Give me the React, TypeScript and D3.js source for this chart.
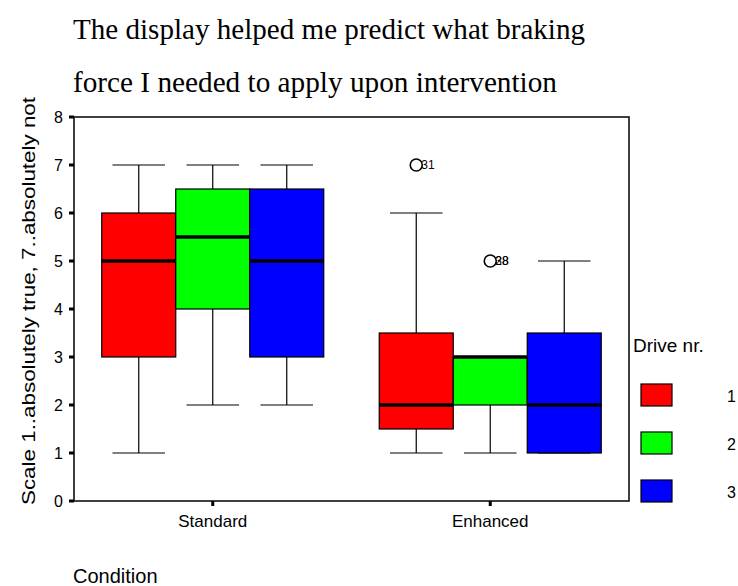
import React from "react"
import * as d3 from "d3"

const conditions = ["Standard", "Enhanced"]
const drives = ["1", "2", "3"]
const driveColors = ["#ff0000", "#00ff00", "#0000ff"]

// [condition][drive] -> five-number summary
const whiskerLow = [[1, 2, 2], [1, 1, 1]]
const q1 = [[3, 4, 3], [1.5, 2, 1]]
const medians = [[5, 5.5, 5], [2, 3, 2]]
const q3 = [[6, 6.5, 6.5], [3.5, 3, 3.5]]
const whiskerHigh = [[7, 7, 7], [6, 3, 5]]

const outliers = [
  { cond: 1, drive: 0, value: 7, labels: ["31"] },
  { cond: 1, drive: 1, value: 5, labels: ["28", "38"] },
]

const yTicks = [0, 1, 2, 3, 4, 5, 6, 7, 8]

export default function App() {
  const width = 738
  const height = 586
  const left = 74
  const right = 629
  const top = 117
  const bottom = 501

  const x = d3.scaleBand().domain(conditions).range([left, right]).paddingInner(0).paddingOuter(0)
  const y = d3.scaleLinear().domain([0, 8]).range([bottom, top])
  const inner = d3
    .scaleBand()
    .domain(drives)
    .range([0, x.bandwidth() * 0.8])
  const offset = x.bandwidth() * 0.1
  const bw = inner.bandwidth()
  const capW = bw * 0.71

  const sans = "'Liberation Sans', Arial, sans-serif"
  const serif = "'Liberation Serif', 'Times New Roman', serif"

  return (
    <svg width={width} height={height} style={{ position: "absolute", left: 0, top: 0, background: "#fff" }}>
      <rect x={0} y={0} width={width} height={height} fill="#fff" />
      <text x={73} y={39} fontFamily={serif} fontSize={29} textLength={512} lengthAdjust="spacingAndGlyphs">
        The display helped me predict what braking
      </text>
      <text x={73} y={92} fontFamily={serif} fontSize={29} textLength={484} lengthAdjust="spacingAndGlyphs">
        force I needed to apply upon intervention
      </text>

      <text
        transform={`translate(35, 301) rotate(-90)`}
        textAnchor="middle"
        fontFamily={sans}
        fontSize={18.5}
        textLength={408}
        lengthAdjust="spacingAndGlyphs"
      >
        Scale 1..absolutely true, 7..absolutely not
      </text>

      {yTicks.map(t => (
        <g key={t}>
          <rect x={left - 5} y={y(t) - 1.5} width={5} height={3} fill="#000" />
          <text x={63} y={y(t) + 6} textAnchor="end" fontFamily={sans} fontSize={16}>
            {t}
          </text>
        </g>
      ))}

      {conditions.map(c => (
        <g key={c}>
          <rect x={x(c)! + x.bandwidth() / 2 - 1.5} y={bottom} width={3} height={5} fill="#000" />
          <text x={x(c)! + x.bandwidth() / 2} y={527} textAnchor="middle" fontFamily={sans} fontSize={17}>
            {c}
          </text>
        </g>
      ))}

      {conditions.map((c, ci) =>
        drives.map((d, di) => {
          const x0 = x(c)! + offset + inner(d)!
          const cx = x0 + bw / 2
          return (
            <g key={c + d}>
              <line x1={cx} x2={cx} y1={y(whiskerHigh[ci][di])} y2={y(q3[ci][di])} stroke="#000" strokeWidth={1.2} />
              <line x1={cx} x2={cx} y1={y(whiskerLow[ci][di])} y2={y(q1[ci][di])} stroke="#000" strokeWidth={1.2} />
              <line x1={cx - capW / 2} x2={cx + capW / 2} y1={y(whiskerHigh[ci][di])} y2={y(whiskerHigh[ci][di])} stroke="#000" strokeWidth={1.2} />
              <line x1={cx - capW / 2} x2={cx + capW / 2} y1={y(whiskerLow[ci][di])} y2={y(whiskerLow[ci][di])} stroke="#000" strokeWidth={1.2} />
              <rect
                x={x0}
                y={y(q3[ci][di])}
                width={bw}
                height={y(q1[ci][di]) - y(q3[ci][di])}
                fill={driveColors[di]}
                stroke="#000"
                strokeWidth={1.2}
              />
              <line x1={x0} x2={x0 + bw} y1={y(medians[ci][di])} y2={y(medians[ci][di])} stroke="#000" strokeWidth={3.5} />
            </g>
          )
        })
      )}

      {outliers.map((o, i) => {
        const cx = x(conditions[o.cond])! + offset + inner(drives[o.drive])! + bw / 2
        return (
          <g key={i}>
            <circle cx={cx} cy={y(o.value)} r={6} fill="none" stroke="#000" strokeWidth={1.6} />
            {o.labels.map(l => (
              <text key={l} x={cx + 5} y={y(o.value) + 4} fontFamily={sans} fontSize={12}>
                {l}
              </text>
            ))}
          </g>
        )
      })}

      <rect x={left} y={top} width={right - left} height={bottom - top} fill="none" stroke="#000" strokeWidth={1.5} />

      <text x={73} y={583} fontFamily={sans} fontSize={20}>
        Condition
      </text>

      <text x={633} y={352} fontFamily={sans} fontSize={19}>
        Drive nr.
      </text>
      {drives.map((d, i) => (
        <g key={d}>
          <rect x={641} y={384 + i * 48} width={31} height={22} fill={driveColors[i]} stroke="#000" strokeWidth={1.2} />
          <text x={736} y={402 + i * 48} textAnchor="end" fontFamily={sans} fontSize={16}>
            {d}
          </text>
        </g>
      ))}
    </svg>
  )
}
